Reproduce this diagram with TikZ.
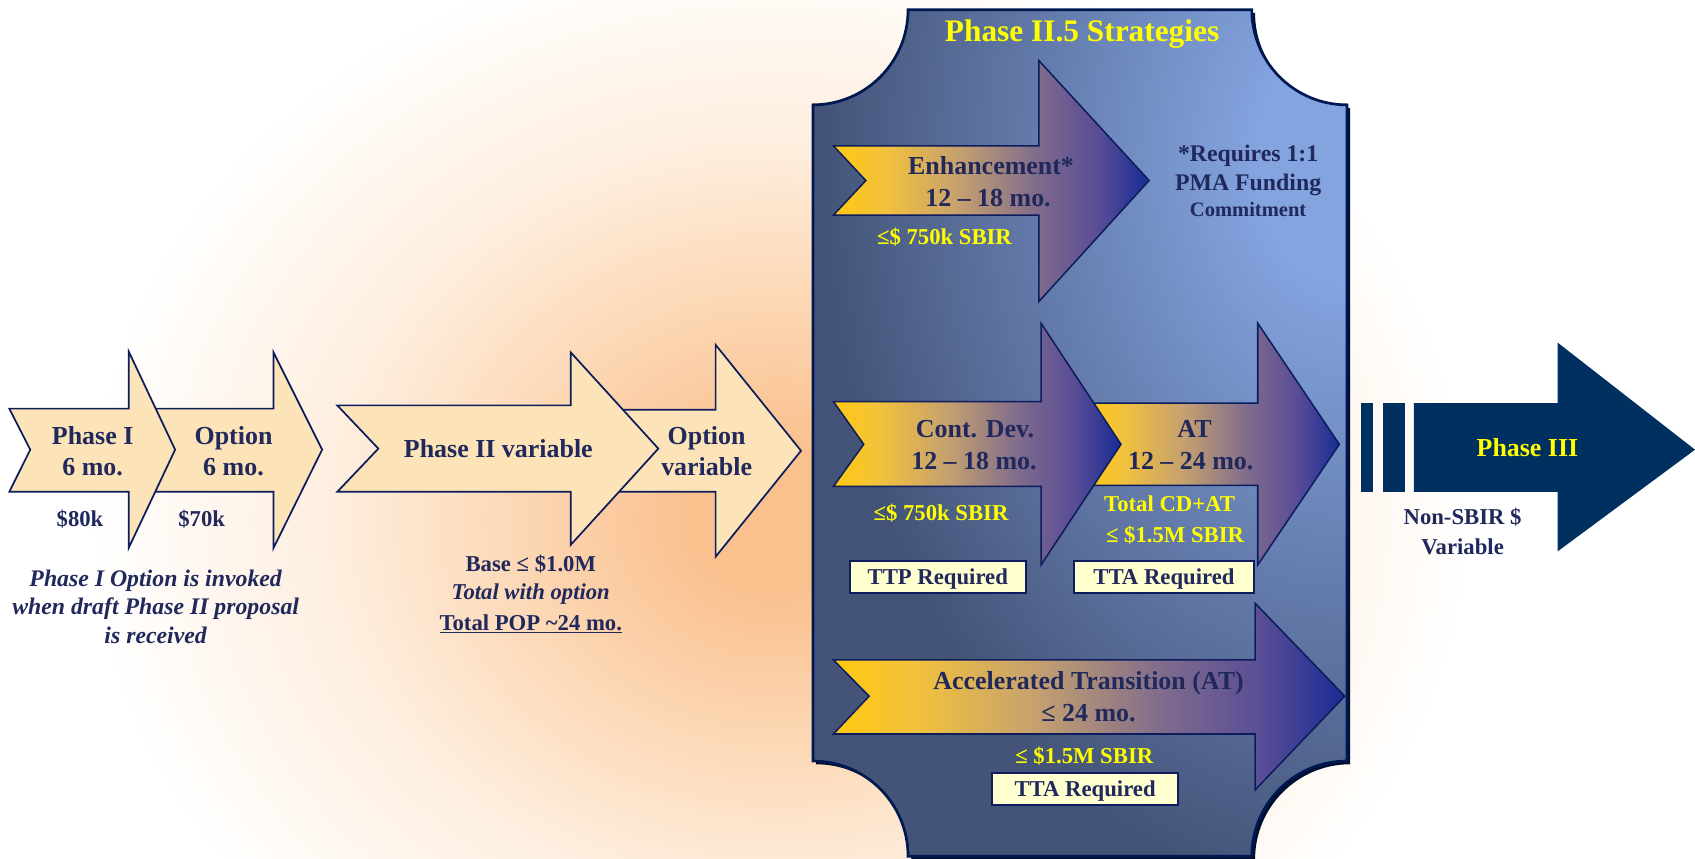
\documentclass[tikz,border=0pt]{standalone}
\usepackage{fontspec}
\setmainfont{Liberation Serif}
\definecolor{navy}{RGB}{12,28,92}
\definecolor{txt}{RGB}{32,40,92}
\definecolor{peachfill}{RGB}{252,228,184}
\definecolor{glowc}{RGB}{250,192,142}
\definecolor{glowb}{RGB}{252,214,178}
\definecolor{glowd}{RGB}{254,238,222}
\definecolor{pdark}{RGB}{68,84,120}
\definecolor{plight}{RGB}{132,164,224}
\definecolor{gold}{RGB}{255,200,16}
\definecolor{golda}{RGB}{243,194,60}
\definecolor{tanc}{RGB}{196,160,112}
\definecolor{mauve}{RGB}{128,108,140}
\definecolor{purp}{RGB}{88,76,150}
\definecolor{ablue}{RGB}{24,44,148}
\definecolor{boxfill}{RGB}{255,255,208}
\definecolor{pthree}{RGB}{0,48,96}
\definecolor{yel}{RGB}{255,255,0}
\definecolor{pborder}{RGB}{0,24,80}
\definecolor{pshadow}{RGB}{0,14,50}
\pgfdeclareradialshading{glow}{\pgfpointorigin}{color(0bp)=(glowc); color(3bp)=(glowc); color(9bp)=(glowb); color(16bp)=(glowd); color(25bp)=(white); color(50bp)=(white)}
\pgfdeclareradialshading{spot}{\pgfpointorigin}{color(0bp)=(plight); color(4bp)=(plight); color(25bp)=(pdark); color(50bp)=(pdark)}
\pgfdeclarehorizontalshading{goldblue}{100bp}{color(0bp)=(gold); color(25bp)=(gold); color(33bp)=(golda); color(45bp)=(tanc); color(57bp)=(mauve); color(67bp)=(purp); color(75bp)=(ablue); color(100bp)=(ablue)}
\def\panelpath{(840,9) -- (1158,9) .. controls (1158,57.6) and (1197.4,97) .. (1246,97) -- (1246,704) .. controls (1197.4,704) and (1158,743.4) .. (1158,792) -- (840,792) .. controls (840,743.4) and (800.6,704) .. (752,704) -- (752,97) .. controls (800.6,97) and (840,57.6) .. cycle}
\tikzset{
  txtbase/.style={inner sep=0pt, anchor=base},
  lab/.style={txtbase, font=\fontsize{24}{29}\selectfont\bfseries, text=txt},
  slab/.style={txtbase, font=\fontsize{21}{25}\selectfont\bfseries, text=txt},
  ylab/.style={txtbase, font=\fontsize{21}{25}\selectfont\bfseries, text=yel},
  ilab/.style={txtbase, font=\fontsize{22}{26}\selectfont\bfseries\itshape, text=txt},
  lightarrow/.style={draw=navy, line width=1.6pt, fill=peachfill, line join=miter},
  goldarrow/.style={draw=navy, line width=1.4pt, shade, shading=goldblue, line join=miter},
  tbox/.style={draw=navy, line width=2pt, fill=boxfill, inner sep=0pt,
    font=\fontsize{21}{25}\selectfont\bfseries, text=txt, text height=16pt, text depth=3pt}
}
\begin{document}
\begin{tikzpicture}[x=1pt,y=-1pt]
\useasboundingbox (0,0) rectangle (1568,794);
\clip (0,0) rectangle (1568,794);
% background glow
\fill[white] (0,0) rectangle (1568,794);
\shade[shading=glow] (720,480) ellipse [x radius=640pt, y radius=540pt];

% left arrows
\draw[lightarrow] (130,378) -- (253,378) -- (253,326) -- (298,416) -- (253,507) -- (253,455) -- (130,455) -- (148,416) -- cycle;
\draw[lightarrow] (8.6,378) -- (119,378) -- (119,325) -- (162,416) -- (119,507) -- (119,455) -- (8.6,455) -- (28,416) -- cycle;
\draw[lightarrow] (560,379) -- (662,379) -- (662,319) -- (741,417) -- (662,515) -- (662,455) -- (560,455) -- (590,417) -- cycle;
\draw[lightarrow] (312,375) -- (528,375) -- (528,326) -- (609,415) -- (528,504) -- (528,455) -- (312,455) -- (350,415) -- cycle;

\node[lab] (p1a) at (85.7,411) {Phase I};
\node[lab] (p1b) at (85.7,440) {6 mo.};
\node[lab] (o1a) at (216,411) {Option};
\node[lab] (o1b) at (216,440) {6 mo.};
\node[slab] (c80) at (74,487.5) {\$80k};
\node[slab] (c70) at (186.6,487.5) {\$70k};
\node[lab] (p2) at (461,423) {Phase II variable};
\node[lab] (o2a) at (653.7,411.5) {Option};
\node[lab] (o2b) at (653.7,440) {variable};
\node[ilab] (n1) at (144,542.6) {Phase I Option is invoked};
\node[ilab] (n2) at (144,568.6) {when draft Phase II proposal};
\node[ilab] (n3) at (144,595.6) {is received};
\node[slab] (b1) at (491,529) {Base ≤ \$1.0M};
\node[slab, font=\fontsize{21}{25}\selectfont\bfseries\itshape] (b2) at (491,555) {Total with option};
\node[slab] (b3) at (491,583) {\underline{Total POP \textasciitilde24 mo.}};

% panel
\begin{scope}[shift={(3,3)}]
  \fill[pshadow] \panelpath;
\end{scope}
\begin{scope}
  \clip \panelpath;
  \fill[pdark] (700,0) rectangle (1300,800);
  \shade[shading=spot] (1240,150) ellipse [x radius=480pt, y radius=680pt];
\end{scope}
\draw[pborder, line width=2.5pt] \panelpath;

\node[txtbase, font=\fontsize{29}{34}\selectfont\bfseries, text=yel] (title) at (1001,38) {Phase II.5 Strategies};

% enhancement
\draw[goldarrow] (771,135) -- (961,135) -- (961,56) -- (1063,167) -- (961,279) -- (961,199) -- (771,199) -- (801,167) -- cycle;
\node[lab] (e1) at (916.8,161) {Enhancement*};
\node[lab] (e2) at (914,191) {12 – 18 mo.};
\node[ylab] (e3) at (873.7,226.5) {≤\$ 750k SBIR};
\node[txtbase, font=\fontsize{22}{26}\selectfont\bfseries, text=txt] (r1) at (1154.6,149.6) {*Requires 1:1};
\node[txtbase, font=\fontsize{22}{26}\selectfont\bfseries, text=txt] (r2) at (1154.6,176.6) {PMA Funding};
\node[txtbase, font=\fontsize{19}{23}\selectfont\bfseries, text=txt] (r3) at (1154.6,200.7) {Commitment};

% AT (behind) and CD
\draw[goldarrow] (1000,373) -- (1163.5,373) -- (1163.5,299) -- (1239,411) -- (1163.5,522.6) -- (1163.5,449) -- (1000,449) -- (1030,411) -- cycle;
\draw[goldarrow] (771,371.5) -- (963,371.5) -- (963,299) -- (1037,411) -- (963,522.6) -- (963,450) -- (771,450) -- (799,411) -- cycle;
\node[lab] (cd1) at (902,405) {Cont. Dev.};
\node[lab] (cd2) at (901,434) {12 – 18 mo.};
\node[ylab] (cd3) at (870.5,481.3) {≤\$ 750k SBIR};
\node[tbox, minimum width=163pt, minimum height=29.6pt] (ttp) at (867.5,533.8) {TTP Required};
\node[lab] (at1) at (1105,405) {AT};
\node[lab] (at2) at (1101.5,434) {12 – 24 mo.};
\node[ylab] (at3) at (1082,473.5) {Total CD+AT};
\node[ylab] (at4) at (1087,501.5) {≤ \$1.5M SBIR};
\node[tbox, minimum width=166.5pt, minimum height=29.6pt] (tta1) at (1076.7,533.8) {TTA Required};

% accelerated transition
\draw[goldarrow] (771,610.5) -- (1161,610.5) -- (1161,558) -- (1244,644) -- (1161,730.8) -- (1161,679) -- (771,679) -- (804,644) -- cycle;
\node[lab] (ac1) at (1007,637.7) {Accelerated Transition (AT)};
\node[lab] (ac2) at (1007,667) {≤ 24 mo.};
\node[ylab] (ac3) at (1003,706.5) {≤ \$1.5M SBIR};
\node[tbox, minimum width=172.4pt, minimum height=30pt] (tta2) at (1003.8,730) {TTA Required};

% phase III
\fill[pthree] (1258.6,373) rectangle (1270.5,455);
\fill[pthree] (1279,373) rectangle (1300,455);
\fill[pthree] (1308,373) -- (1441,373) -- (1441,317) -- (1568,416) -- (1441,510) -- (1441,455) -- (1308,455) -- cycle;
\node[lab, text=yel] (p3) at (1413,422) {Phase III};
\node[slab] (ns1) at (1353,485.5) {Non-SBIR \$};
\node[slab] (ns2) at (1353,512.5) {Variable};
\end{tikzpicture}
\end{document}
